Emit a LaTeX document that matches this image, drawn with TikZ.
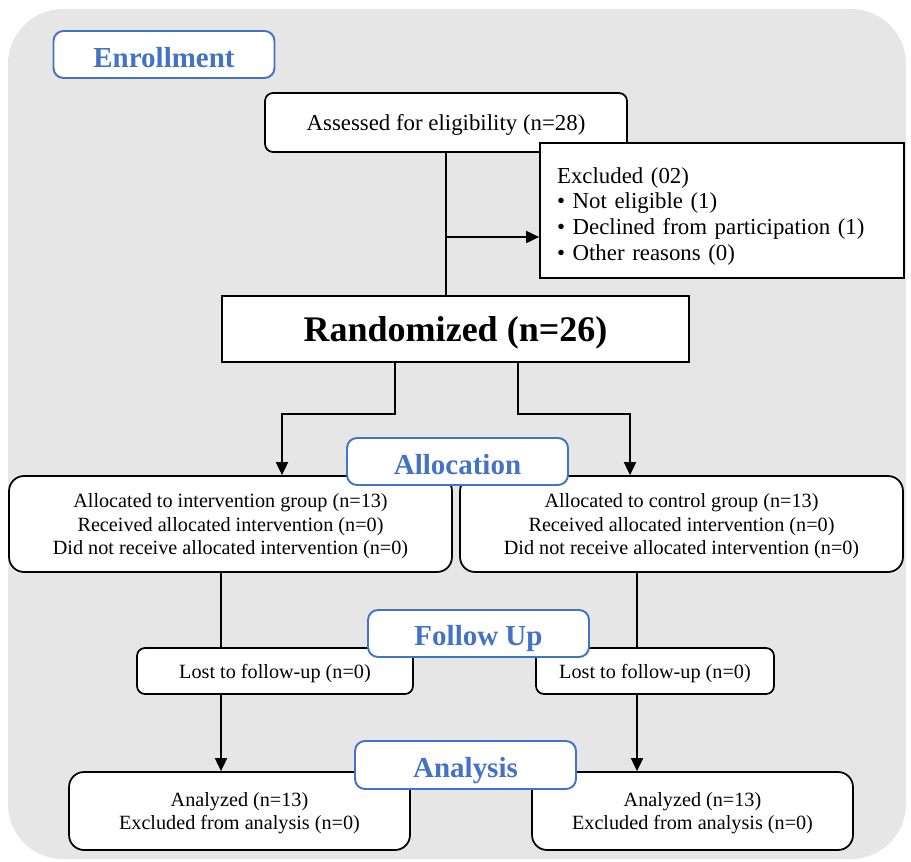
\documentclass[tikz,border=0pt]{standalone}
\usepackage{fontspec}
\setmainfont{Liberation Serif}
\usetikzlibrary{arrows.meta, positioning}
\definecolor{stageblue}{HTML}{4472C4}
\definecolor{panelgrey}{HTML}{E6E6E6}

\begin{document}
\begin{tikzpicture}[x=0.02cm, y=-0.02cm,
    stage/.style={draw=stageblue, line width=1.1pt, fill=white, rounded corners=0.2cm,
        text=stageblue, font=\fontsize{16.5}{19}\selectfont\bfseries,
        text height=15pt, text depth=0pt,
        minimum width=4.42cm, minimum height=0.94cm, inner sep=0},
    rbox/.style={draw, line width=1pt, fill=white, rounded corners=#1, align=center,
        inner sep=0, text depth=-1.7pt, font=\fontsize{11.5}{13.6}\selectfont},
    rbox/.default=0.3cm,
    conn/.style={line width=1pt},
    arr/.style={conn, -{Triangle[length=0.26cm, width=0.24cm]}}]
    \useasboundingbox (0,0) rectangle (911,861);
    \fill[panelgrey, rounded corners=1.1cm] (8,9) rectangle (906,859);

    % boxes
    \node[rbox=0.16cm, minimum width=7.24cm, minimum height=1.18cm, font=\fontsize{13}{15}\selectfont] (assess) at (446,122.5) {Assessed for eligibility (n=28)};
    \node[draw, line width=1pt, fill=white, align=left, text width=6.6cm, inner xsep=0.34cm, inner ysep=0, minimum height=2.7cm, text depth=40.3pt, font=\fontsize{13}{14.7}\selectfont] (excl) at (722,210.5) {Excluded (02)\\ \textbullet{} Not eligible (1)\\ \textbullet{} Declined from participation (1)\\ \textbullet{} Other reasons (0)};
    \node[draw, line width=1pt, fill=white, minimum width=9.34cm, minimum height=1.32cm, text depth=-2.3pt, font=\fontsize{20.5}{24}\selectfont\bfseries] (rand) at (455.5,329) {Randomized (n=26)};

    \node[rbox, minimum width=8.86cm, minimum height=1.92cm] (allocL) at (230.5,524) {Allocated to intervention group (n=13)\\ Received allocated intervention (n=0)\\ Did not receive allocated intervention (n=0)};
    \node[rbox, minimum width=8.86cm, minimum height=1.92cm] (allocR) at (681.5,524) {Allocated to control group (n=13)\\ Received allocated intervention (n=0)\\ Did not receive allocated intervention (n=0)};

    \node[rbox=0.16cm, minimum width=5.52cm, minimum height=0.92cm] (lostL) at (275,671) {Lost to follow-up (n=0)};
    \node[rbox=0.16cm, minimum width=4.76cm, minimum height=0.92cm] (lostR) at (655,671) {Lost to follow-up (n=0)};

    \node[rbox, minimum width=6.82cm, minimum height=1.56cm, text depth=-0.5pt] (anaL) at (239.5,811) {Analyzed (n=13)\\ Excluded from analysis (n=0)};
    \node[rbox, minimum width=6.42cm, minimum height=1.56cm, text depth=-0.5pt] (anaR) at (692.5,811) {Analyzed (n=13)\\ Excluded from analysis (n=0)};

    % connectors
    \coordinate (split) at (446,237);
    \coordinate (forkL) at (395,414);
    \coordinate (forkR) at (518,414);
    \coordinate (colL) at (221,0);
    \coordinate (colR) at (637,0);

    \draw[conn] (assess.south) -- (assess.south |- rand.north);
    \draw[arr] (split) -- (split -| excl.west);
    \draw[arr] (forkL |- rand.south) -- (forkL) -| ([xshift=1.03cm]allocL.north);
    \draw[arr] (forkR |- rand.south) -- (forkR) -| ([xshift=-1.03cm]allocR.north);
    \draw[conn] (allocL.south -| colL) -- (lostL.north -| colL);
    \draw[conn] (allocR.south -| colR) -- (lostR.north -| colR);
    \draw[arr] (lostL.south -| colL) -- (anaL.north -| colL);
    \draw[arr] (lostR.south -| colR) -- (anaR.north -| colR);

    % stage labels
    \node[stage] (enroll) at (164,54.5) {Enrollment};
    \node[stage] (allocation) at (457.5,461.5) {Allocation};
    \node[stage, text height=14pt] (followup) at (478.5,633.5) {Follow Up};
    \node[stage, text height=14pt, minimum height=0.96cm] (analysis) at (465.5,765) {Analysis};
\end{tikzpicture}
\end{document}
